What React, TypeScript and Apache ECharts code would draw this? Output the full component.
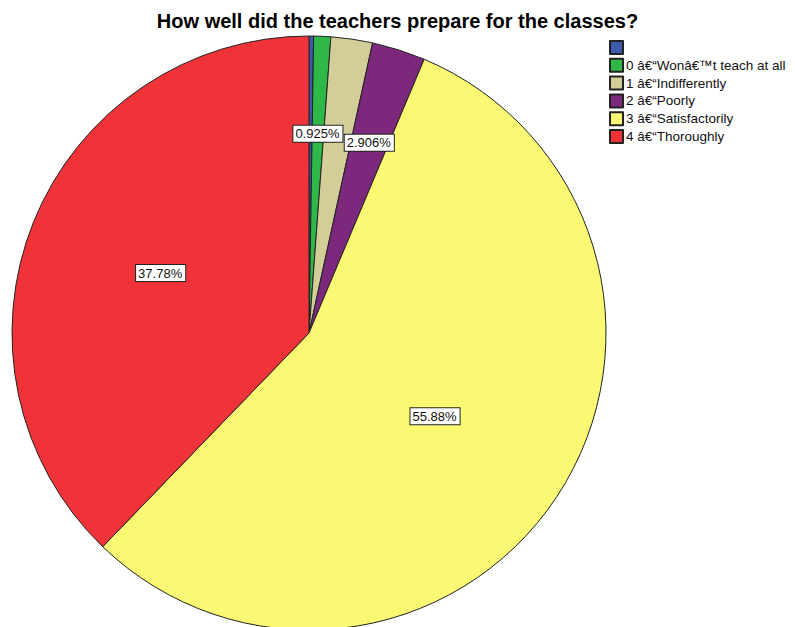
import React, { useEffect, useRef } from "react";
import * as echarts from "echarts";

const titleText = "How well did the teachers prepare for the classes?";
const categories = [
  " ",
  "0 â€\u201CWonâ€™t teach at all",
  "1 â€\u201CIndifferently",
  "2 â€\u201CPoorly",
  "3 â€\u201CSatisfactorily",
  "4 â€\u201CThoroughly",
];
const values = [0.25, 0.925, 2.259, 2.906, 55.88, 37.78];
const palette = ["#3e58ac", "#2eb848", "#d3ce97", "#7c287d", "#fbf873", "#ef3338"];
const redLabelled = ["4 â€\u201CThoroughly"];
const yellowLabelled = ["3 â€\u201CSatisfactorily"];
const smallLabelled = ["0 â€\u201CWonâ€™t teach at all", "2 â€\u201CPoorly"];

const FONT = "'Liberation Sans', Arial, sans-serif";

export default function App() {
  const ref = useRef<HTMLDivElement>(null);
  useEffect(() => {
    if (!ref.current) return;
    const chart = echarts.init(ref.current, undefined, { renderer: "svg" });
    const center = [309, 333];
    const R = 297;
    const labelStyle = {
      position: "inside",
      formatter: (p: any) => `${p.value}%`,
      fontSize: 13,
      fontFamily: FONT,
      color: "#111",
      backgroundColor: "#fff",
      borderColor: "#222",
      borderWidth: 1,
      padding: [2, 3, 1, 2],
    };
    const labelSeries = (inner: number, outer: number, shown: string[]) => ({
      type: "pie",
      silent: true,
      center,
      radius: [inner, outer],
      startAngle: 90,
      clockwise: true,
      avoidLabelOverlap: false,
      minAngle: 0,
      itemStyle: { color: "transparent", borderWidth: 0 },
      labelLine: { show: false },
      label: labelStyle,
      emphasis: { disabled: true },
      data: categories.map((n, i) => ({
        name: n,
        value: values[i],
        label: { show: shown.includes(n) },
      })),
    });
    chart.setOption({
      animation: false,
      backgroundColor: "#fff",
      color: palette,
      title: {
        text: titleText,
        left: "center",
        top: 6,
        textStyle: { fontFamily: FONT, fontSize: 20, fontWeight: "bold", color: "#000" },
      },
      legend: {
        orient: "vertical",
        left: 609,
        top: 40,
        padding: 0,
        icon: "rect",
        itemWidth: 13,
        itemHeight: 13,
        itemGap: 2.8,
        data: categories,
        selectedMode: false,
        textStyle: {
          fontFamily: FONT,
          fontSize: 13.5,
          lineHeight: 13,
          color: "#111",
          padding: [0, 0, 0, -2],
        },
      },
      series: [
        {
          type: "pie",
          center,
          radius: [0, R],
          startAngle: 90,
          clockwise: true,
          avoidLabelOverlap: false,
          itemStyle: { borderColor: "#222", borderWidth: 1 },
          label: { show: false },
          labelLine: { show: false },
          emphasis: { disabled: true },
          data: categories.map((n, i) => ({ name: n, value: values[i] })),
        },
        labelSeries(17, R, redLabelled),
        labelSeries(0, 296, yellowLabelled),
        labelSeries(96, R, smallLabelled),
      ],
    } as any);
    return () => chart.dispose();
  }, []);
  return (
    <div
      ref={ref}
      style={{ position: "fixed", left: 0, top: 0, width: 795, height: 627 }}
    />
  );
}
